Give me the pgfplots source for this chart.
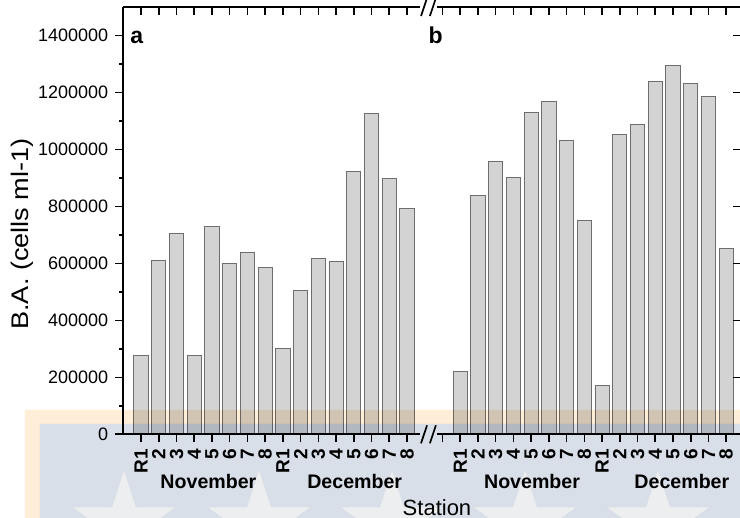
\documentclass[border=0pt]{standalone}
\usepackage{fontspec}
\setmainfont{Liberation Sans}
\usepackage{graphicx}
\usepackage{pgfplots}
\usepackage{pgfplotstable}
\pgfplotsset{compat=1.18}
\definecolor{barfill}{RGB}{211,211,211}
\definecolor{baredge}{RGB}{110,110,110}
\definecolor{wmorange}{RGB}{254,238,216}
\definecolor{wmblue}{RGB}{216,223,232}
\definecolor{wmstar}{RGB}{237,238,240}

\pgfplotstableread{
x y
1 277000
2 609000
3 706000
4 277000
5 728000
6 600000
7 639000
8 585000
9 301000
10 504000
11 616000
12 606000
13 921000
14 1127000
15 899000
16 792000
19 220000
20 837000
21 959000
22 901000
23 1131000
24 1169000
25 1032000
26 750000
27 171000
28 1054000
29 1087000
30 1240000
31 1296000
32 1233000
33 1185000
34 652000
}\datatable

\begin{document}
\begin{tikzpicture}
\begin{axis}[
  scale only axis, width=308.9pt, height=213.65pt,
  xmin=0, xmax=34.84, ymin=0, ymax=1500000,
  separate axis lines, axis line style={draw=none},
  clip=false,
  tick align=outside,
  major tick length=4pt, minor tick length=2pt,
  tick style={black, line width=0.8pt},
  xtick pos=lower, ytick pos=left,
  xtick={1,...,16,18,19,...,34},
  xticklabels={R1,2,3,4,5,6,7,8,R1,2,3,4,5,6,7,8,{},R1,2,3,4,5,6,7,8,R1,2,3,4,5,6,7,8},
  xticklabel style={rotate=90, anchor=east, font=\fontsize{9.5}{10}\selectfont\bfseries},
  ytick={0,200000,...,1400000},
  minor ytick={100000,300000,...,1300000},
  yticklabels={0,200000,400000,600000,800000,1000000,1200000,1400000},
  yticklabel style={font=\fontsize{9}{10}\selectfont},
]
\addplot[ybar, bar width=0.8, fill=barfill, draw=baredge, line width=0.45pt] table[x=x,y=y] {\datatable};
\coordinate (O) at (axis cs:0,0);
% axis lines with breaks
\draw[line width=0.85pt] (axis cs:0,0) -- (axis cs:0,1500000);
\draw[line width=0.85pt] (axis cs:34.84,0) -- (axis cs:34.84,1500000);
\draw[line width=0.85pt] (axis cs:0,0) -- (axis cs:16.75,0);
\draw[line width=0.85pt] (axis cs:17.69,0) -- (axis cs:34.84,0);
\draw[line width=0.85pt] (axis cs:0,1500000) -- (axis cs:16.75,1500000);
\draw[line width=0.85pt] (axis cs:17.69,1500000) -- (axis cs:34.84,1500000);
\draw[line width=0.85pt] ([yshift=-4.5pt]axis cs:16.79,0) -- ([yshift=4.5pt]axis cs:17.13,0);
\draw[line width=0.85pt] ([yshift=-4.5pt]axis cs:17.29,0) -- ([yshift=4.5pt]axis cs:17.63,0);
\draw[line width=0.85pt] ([yshift=-4.5pt]axis cs:16.79,1500000) -- ([yshift=4.5pt]axis cs:17.13,1500000);
\draw[line width=0.85pt] ([yshift=-4.5pt]axis cs:17.29,1500000) -- ([yshift=4.5pt]axis cs:17.63,1500000);
% inward ticks on top and right axes
\pgfplotsinvokeforeach{1,2,3,4,5,6,7,8,9,10,11,12,13,14,15,16,18,19,20,21,22,23,24,25,26,27,28,29,30,31,32,33,34}{
  \draw[line width=0.8pt] (axis cs:#1,1500000) -- ([yshift=-4pt]axis cs:#1,1500000);
}
\pgfplotsinvokeforeach{200000,400000,600000,800000,1000000,1200000,1400000}{
  \draw[line width=0.8pt] (axis cs:34.84,#1) -- ([xshift=-4pt]axis cs:34.84,#1);
}
% panel letters
\node[anchor=base west, inner sep=0pt, font=\fontsize{11.5}{13}\selectfont\bfseries] at (axis cs:0.38,1370700) {a};
\node[anchor=base west, inner sep=0pt, font=\fontsize{11.5}{13}\selectfont\bfseries] at (axis cs:17.19,1370700) {b};
% month labels
\node[font=\fontsize{9.8}{11}\selectfont\bfseries] at ([yshift=-23.5pt]axis cs:4.8,0) {November};
\node[font=\fontsize{9.8}{11}\selectfont\bfseries] at ([yshift=-23.5pt]axis cs:13.05,0) {December};
\node[font=\fontsize{9.8}{11}\selectfont\bfseries] at ([yshift=-23.5pt]axis cs:23.05,0) {November};
\node[font=\fontsize{9.8}{11}\selectfont\bfseries] at ([yshift=-23.5pt]axis cs:31.5,0) {December};
\node[font=\fontsize{11}{13}\selectfont] at ([yshift=-36.5pt]axis cs:17.69,0) {Station};
\node[rotate=90, font=\fontsize{12}{14}\selectfont] at ([xshift=-50.5pt]axis cs:0,703000) {\scalebox{1.13}[1]{B.A. (cells ml-1)}};
\end{axis}
% watermark
\begin{scope}[shift={(O)}, x=0.5pt, y=-0.5pt, blend mode=multiply]
  \fill[wmorange, even odd rule] (-98.3,-24.3) rectangle (676.7,125.7) (-83.3,-10.3) rectangle (676.7,125.7);
  \fill[wmblue, even odd rule] (-83.3,-10.3) rectangle (676.7,125.7)
    \foreach \c in {0.7,135.7,268.7,401.7,534.7}{ (\c,35.7)
      \foreach \k/\r in {1/20.6,2/54,3/20.6,4/54,5/20.6,6/54,7/20.6,8/54,9/20.6}{ -- ({\c+\r*sin(36*\k)},{89.7-\r*cos(36*\k)}) } -- cycle };
  \fill[wmstar]
    \foreach \c in {0.7,135.7,268.7,401.7,534.7}{ (\c,35.7)
      \foreach \k/\r in {1/20.6,2/54,3/20.6,4/54,5/20.6,6/54,7/20.6,8/54,9/20.6}{ -- ({\c+\r*sin(36*\k)},{89.7-\r*cos(36*\k)}) } -- cycle };
\end{scope}
\begin{scope}[shift={(O)}, x=0.5pt, y=-0.5pt]
  \pgfresetboundingbox
  \path[use as bounding box] (-123.3,-434.3) rectangle (616.7,83.7);
\end{scope}
\end{tikzpicture}
\end{document}
